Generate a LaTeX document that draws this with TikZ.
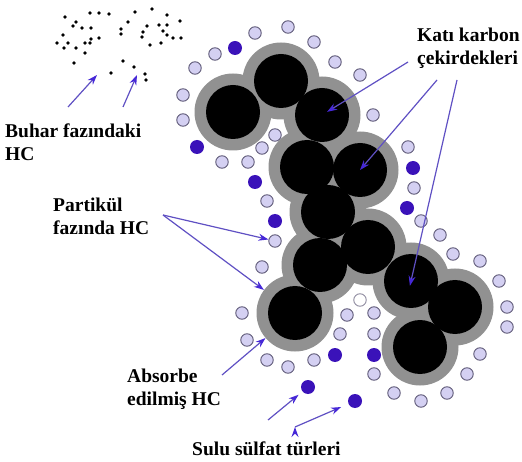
\documentclass[tikz,border=0pt]{standalone}
\usepackage{fontspec}
\setmainfont{Liberation Serif}
\usetikzlibrary{arrows.meta}

\definecolor{shellgray}{RGB}{145,145,145}
\definecolor{lilac}{RGB}{212,208,242}
\definecolor{rim}{RGB}{95,90,120}
\definecolor{sulfate}{RGB}{58,18,185}
\definecolor{arrowblue}{RGB}{95,80,195}
\definecolor{tipblue}{RGB}{70,40,215}

\begin{document}
\begin{tikzpicture}[x=1pt,y=-1pt,
  tag/.style={font=\fontsize{19.5}{23}\selectfont\bfseries, align=left,
    anchor=base west, inner sep=0pt},
  callout/.style={draw=arrowblue, line width=1.2pt,
    -{Stealth[length=10pt,width=7pt,color=tipblue]}},
  shell/.style={circle, fill=shellgray, minimum size=77pt, inner sep=0pt},
  core/.style={circle, fill=black, minimum size=54pt, inner sep=0pt},
  hc/.style={circle, draw=rim, fill=lilac, line width=0.9pt,
    minimum size=12.5pt, inner sep=0pt},
  so4/.style={circle, fill=sulfate, minimum size=14pt, inner sep=0pt},
  vap/.style={circle, fill=black, minimum size=3.8pt, inner sep=0pt}]
  \useasboundingbox (0,0) rectangle (522,462);

  % carbon cores with their adsorbed shells
  \def\cores{233/112, 281/81, 322/115, 307/167, 360/170, 328/212,
    368/247, 320/265, 295/313, 411/281, 455/307, 420/347}
  \foreach \x/\y [count=\i] in \cores
    \node[shell] (s\i) at (\x,\y) {};
  \foreach \x/\y [count=\i] in \cores
    \node[core] (c\i) at (\x,\y) {};

  % particle phase HC around the cluster
  \foreach \x/\y [count=\i] in {255/33, 288/27, 314/42, 335/62, 360/75,
      373/115, 215/54, 195/68, 183/95, 183/120, 222/162, 248/162,
      262/148, 275/135, 267/201, 275/241, 262/267, 242/313, 247/340,
      267/360, 288/367, 314/360, 340/334, 347/315, 374/313, 374/334,
      374/374, 394/393, 421/401, 447/393, 467/374, 480/354, 507/327,
      507/307, 499/281, 480/261, 453/254, 440/235, 421/221, 414/188,
      408/147}
    \node[hc] (h\i) at (\x,\y) {};
  \node[hc, draw=rim!70, fill=white] (hw) at (360,300) {};

  % aqueous sulfate species
  \foreach \x/\y [count=\i] in {235/48, 197/147, 255/182, 275/221,
      413/168, 407/208, 335/355, 374/355, 308/387, 355/401}
    \node[so4] (d\i) at (\x,\y) {};

  % vapour phase HC
  \foreach \x/\y in {65/17, 90/13, 99/13, 109/14, 76/22, 73/26, 82/28,
      91/28, 63/35, 91/39, 99/38, 57/43, 68/43, 85/43, 90/43, 64/48,
      76/48, 85/53, 74/63, 111/73, 123/61, 134/67, 145/74, 146/80,
      135/12, 152/9, 167/15, 180/21, 128/22, 121/29, 121/34, 143/32,
      147/26, 159/25, 167/25, 163/31, 167/35, 142/37, 173/38, 181/38,
      150/45, 161/43}
    \node[vap] at (\x,\y) {};

  % labels (base sits on the last line)
  \node[tag] (buhar)   at (5,161)   {Buhar fazındaki\\HC};
  \node[tag] (partikul) at (53,235) {Partikül\\fazında HC};
  \node[tag] (kati)    at (417,65)  {Katı karbon\\çekirdekleri};
  \node[tag] (absorbe) at (127,405) {Absorbe\\edilmiş HC};
  \node[tag] (sulu)    at (192,455) {Sulu sülfat türleri};

  % arrow tails and free heads
  \coordinate (v1) at (68,107);
  \coordinate (v1h) at (97,75);
  \coordinate (v2) at (123,107);
  \coordinate (v2h) at (137,75);
  \coordinate (k1) at (408,62);
  \coordinate (k2) at (437,80);
  \coordinate (k3) at (457,80);
  \coordinate (p0) at (163,215);
  \coordinate (a0) at (222,375);
  \coordinate (u1) at (268,420);
  \coordinate (u2) at (295,427);

  \path[callout]
  (v1) edge (v1h)
  (v2) edge (v2h)
  (k1) edge [shorten >=6pt] (c3.center)
  (k2) edge (c5.center)
  (k3) edge [shorten >=-5pt] (c10.center)
  (p0) edge (h16)
  (p0) edge (s9)
  (a0) edge (s9)
  (u1) edge [shorten >=5pt] (d9)
  (u2) edge [shorten >=8pt] (d10)
  ;
\end{tikzpicture}
\end{document}
